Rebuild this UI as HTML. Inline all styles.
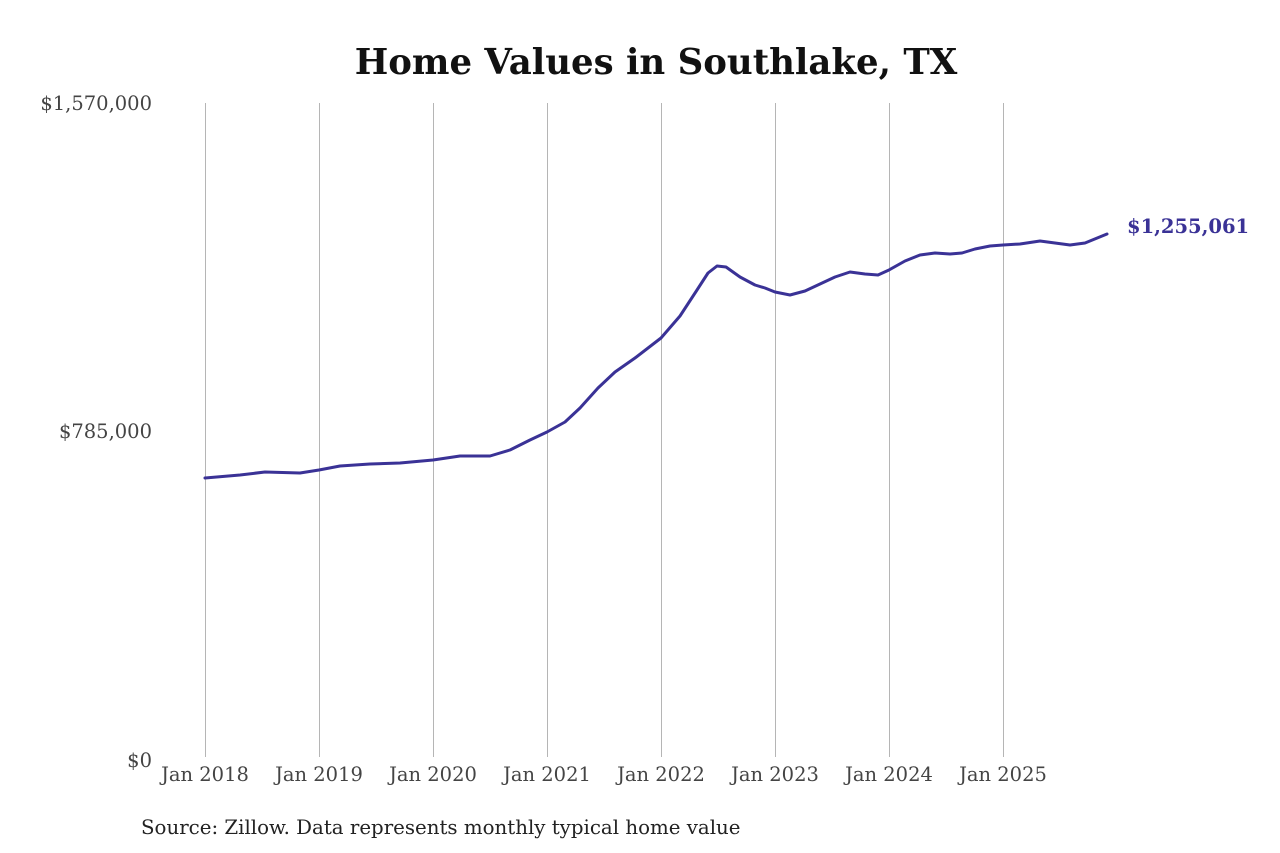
<!DOCTYPE html>
<html><head><meta charset="utf-8"><style>
html,body{margin:0;padding:0;background:#fff;width:1280px;height:853px;overflow:hidden}
svg text{font-family:"DejaVu Serif","Liberation Serif",serif}
</style></head><body>
<svg width="1280" height="853" viewBox="0 0 1280 853" xmlns="http://www.w3.org/2000/svg">
<rect width="1280" height="853" fill="#fff"/>
<text x="656" y="74" text-anchor="middle" font-size="35.5" font-weight="bold" fill="#111">Home Values in Southlake, TX</text>
<g stroke="#b5b5b5" stroke-width="1">
<line x1="205.5" y1="103" x2="205.5" y2="757"/>
<line x1="319.5" y1="103" x2="319.5" y2="757"/>
<line x1="433.5" y1="103" x2="433.5" y2="757"/>
<line x1="547.5" y1="103" x2="547.5" y2="757"/>
<line x1="661.5" y1="103" x2="661.5" y2="757"/>
<line x1="775.5" y1="103" x2="775.5" y2="757"/>
<line x1="889.5" y1="103" x2="889.5" y2="757"/>
<line x1="1003.5" y1="103" x2="1003.5" y2="757"/>
</g>
<g font-size="19.5" fill="#444" text-anchor="end" textLength="0">
<text x="152" y="110">$1,570,000</text>
<text x="152" y="438">$785,000</text>
<text x="152" y="767">$0</text>
</g>
<g font-size="19.5" fill="#444" text-anchor="middle">
<text x="205" y="781">Jan 2018</text>
<text x="319" y="781">Jan 2019</text>
<text x="433" y="781">Jan 2020</text>
<text x="547" y="781">Jan 2021</text>
<text x="661" y="781">Jan 2022</text>
<text x="775" y="781">Jan 2023</text>
<text x="889" y="781">Jan 2024</text>
<text x="1003" y="781">Jan 2025</text>
</g>
<polyline fill="none" stroke="#3a3296" stroke-width="3" stroke-linejoin="round" stroke-linecap="round"
points="205,478 240,475 265,472 300,473 319,470 340,466 370,464 400,463 433,460 460,456 490,456 510,450 530,440 547,432 565,422 580,408 598,388 615,372 635,358 661,338 680,316 697,290 708,273 717,266 726,267 740,277 755,285 765,288 775,292 790,295 805,291 820,284 835,277 850,272 865,274 878,275 889,270 905,261 920,255 935,253 950,254 962,253 975,249 990,246 1003,245 1020,244 1040,241 1055,243 1070,245 1085,243 1107,234"/>
<text x="1127" y="233" font-size="19.5" font-weight="bold" fill="#3a3296">$1,255,061</text>
<text x="141" y="834" font-size="19.8" fill="#222">Source: Zillow. Data represents monthly typical home value</text>
</svg>
</body></html>
